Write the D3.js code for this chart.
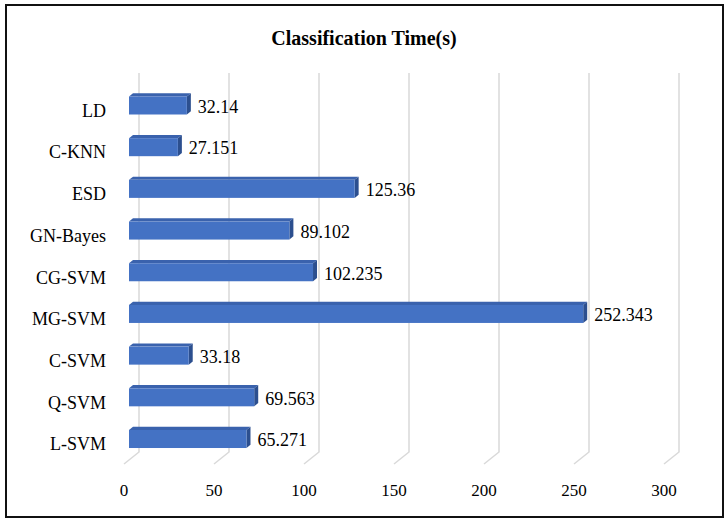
<!DOCTYPE html>
<html lang="en">
<head>
    <meta charset="UTF-8">
    <title>Classification Time(s)</title>
    <script src="https://cdn.jsdelivr.net/npm/d3@7"></script>
    <style>
        body { margin: 0; padding: 0; overflow: hidden; background: #fff; }
        svg { display: block; }
        text { font-family: "Liberation Serif", "DejaVu Serif", serif; fill: #000; }
    </style>
</head>
<body>
    <svg id="chart" width="728" height="525"></svg>

    <script>
        // data, top to bottom as in the picture
        var categories = ["LD", "C-KNN", "ESD", "GN-Bayes", "CG-SVM", "MG-SVM", "C-SVM", "Q-SVM", "L-SVM"];
        var times = [32.14, 27.151, 125.36, 89.102, 102.235, 252.343, 33.18, 69.563, 65.271];
        var ticks = [0, 50, 100, 150, 200, 250, 300];

        var svg = d3.select("#chart");

        // frame
        svg.append("rect")
            .attr("x", 6).attr("y", 5)
            .attr("width", 717).attr("height", 512)
            .attr("fill", "none").attr("stroke", "#111").attr("stroke-width", 2);

        svg.append("text")
            .attr("x", 364).attr("y", 45)
            .attr("text-anchor", "middle")
            .attr("font-size", 20).attr("font-weight", "bold")
            .text("Classification Time(s)");

        var x = d3.scaleLinear().domain([0, 300]).range([129, 669]);
        var y = d3.scaleBand().domain(categories)
            .range([84.65, 459.85])
            .paddingInner(0.568).paddingOuter(0.284);

        var back = 10, floorX = 15, floorY = 12;
        var gridTop = 73, gridBot = 452;
        var depth = 4;

        // back wall gridlines and floor lines
        var grid = svg.append("g").attr("stroke", "#d9d9d9").attr("stroke-width", 1.5).attr("fill", "none");
        ticks.forEach(function (t) {
            var gx = x(t) + back;
            grid.append("path")
                .attr("d", "M" + gx + "," + gridTop + "L" + gx + "," + gridBot + "L" + (gx - floorX) + "," + (gridBot + floorY));
        });

        // tick labels
        svg.append("g").selectAll("text").data(ticks).join("text")
            .attr("x", d => x(d) - 5)
            .attr("y", 496)
            .attr("text-anchor", "middle")
            .attr("font-size", 17)
            .text(d => d);

        // category labels (sit a little lower, on the floor plane)
        svg.append("g").selectAll("text").data(categories).join("text")
            .attr("x", 106)
            .attr("y", d => y(d) + y.bandwidth() / 2 + 5)
            .attr("dy", "0.35em")
            .attr("text-anchor", "end")
            .attr("font-size", 18)
            .text(d => d);

        // 3d bars
        var bars = svg.append("g").selectAll("g").data(categories).join("g");
        var h = y.bandwidth();
        bars.each(function (c, i) {
            var g = d3.select(this);
            var x0 = x(0), x1 = x(times[i]), y0 = y(c);
            // top face
            g.append("path")
                .attr("d", "M" + x0 + "," + y0 + "L" + (x0 + depth) + "," + (y0 - depth * 0.8) +
                    "L" + (x1 + depth) + "," + (y0 - depth * 0.8) + "L" + x1 + "," + y0 + "Z")
                .attr("fill", "#3a62ad");
            // side face
            g.append("path")
                .attr("d", "M" + x1 + "," + y0 + "L" + (x1 + depth) + "," + (y0 - depth * 0.8) +
                    "L" + (x1 + depth) + "," + (y0 + h - depth * 0.8) + "L" + x1 + "," + (y0 + h) + "Z")
                .attr("fill", "#2c4f8f");
            // front face
            g.append("rect")
                .attr("x", x0).attr("y", y0)
                .attr("width", x1 - x0).attr("height", h)
                .attr("fill", "#4472c4");
        });

        // value labels
        svg.append("g").selectAll("text").data(categories).join("text")
            .attr("x", (d, i) => x(times[i]) + depth + 7)
            .attr("y", d => y(d) + y.bandwidth() / 2 + 1)
            .attr("dy", "0.35em")
            .attr("font-size", 18)
            .text((d, i) => times[i]);
    </script>
</body>
</html>
